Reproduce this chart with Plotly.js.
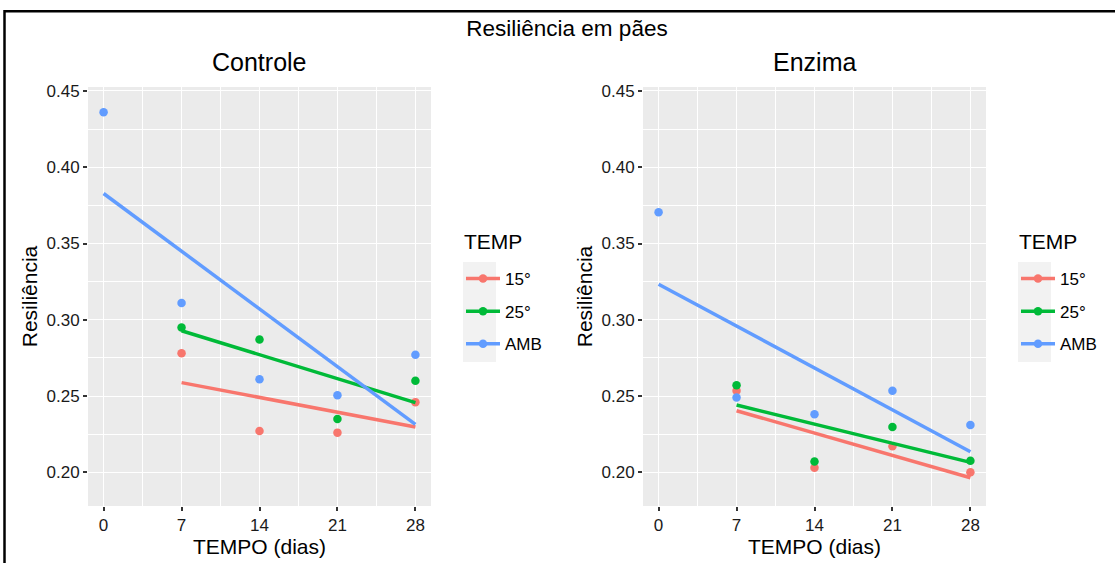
<!DOCTYPE html>
<html>
<head>
<meta charset="utf-8">
<script src="https://cdn.plot.ly/plotly-3.0.1.min.js"></script>
<style>html,body{margin:0;padding:0;background:#fff;}#chart{width:1115px;height:563px;}</style>
</head>
<body>
<div id="chart"></div>
<script>
// ---- data ----
const dayTicks = [0, 7, 14, 21, 28];
const daysAMB = [0, 7, 14, 21, 28];
const daysTemp = [7, 14, 21, 28];
const groups = ["15°", "25°", "AMB"];
const groupColors = ["#F8766D", "#00BA38", "#619CFF"];

const controle15 = [0.278, 0.227, 0.226, 0.246];
const controle25 = [0.295, 0.287, 0.235, 0.260];
const controleAMB = [0.436, 0.311, 0.261, 0.2505, 0.277];

const enzima15 = [0.2535, 0.203, 0.217, 0.200];
const enzima25 = [0.257, 0.207, 0.2297, 0.2076];
const enzimaAMB = [0.3705, 0.249, 0.238, 0.2535, 0.231];

// ---- layout helpers (pixels -> paper) ----
const W = 1115, H = 563;
const px = v => v / W;
const py = v => 1 - v / H;
const FONT = "Liberation Sans, Arial, sans-serif";

function lmLine(xs, ys) {
  const n = xs.length;
  const mx = xs.reduce((a, b) => a + b, 0) / n;
  const my = ys.reduce((a, b) => a + b, 0) / n;
  let sxy = 0, sxx = 0;
  for (let i = 0; i < n; i++) { sxy += (xs[i] - mx) * (ys[i] - my); sxx += (xs[i] - mx) ** 2; }
  const b = sxy / sxx, a = my - b * mx;
  const x0 = Math.min(...xs), x1 = Math.max(...xs);
  return { x: [x0, x1], y: [a + b * x0, a + b * x1] };
}

const panels = [
  { xa: "x", ya: "y", legend: "legend", data: [[daysTemp, controle15], [daysTemp, controle25], [daysAMB, controleAMB]] },
  { xa: "x2", ya: "y2", legend: "legend2", data: [[daysTemp, enzima15], [daysTemp, enzima25], [daysAMB, enzimaAMB]] }
];

const traces = [];
panels.forEach(p => {
  p.data.forEach((d, i) => {
    traces.push({ x: d[0], y: d[1], type: "scatter", mode: "markers", xaxis: p.xa, yaxis: p.ya,
      marker: { color: groupColors[i], size: 8.5 }, showlegend: false, hoverinfo: "x+y" });
  });
  p.data.forEach((d, i) => {
    const f = lmLine(d[0], d[1]);
    traces.push({ x: f.x, y: f.y, type: "scatter", mode: "lines", xaxis: p.xa, yaxis: p.ya,
      line: { color: groupColors[i], width: 3.5 }, showlegend: false, hoverinfo: "skip" });
  });
  groups.forEach((g, i) => {
    traces.push({ x: [null], y: [null], type: "scatter", mode: "lines+markers", xaxis: p.xa, yaxis: p.ya,
      name: g, legend: p.legend, legendgroup: p.legend + g,
      line: { color: groupColors[i], width: 3.5 }, marker: { color: groupColors[i], size: 8.5 } });
  });
});

function xAxis(domain, anchor) {
  return {
    domain: domain, anchor: anchor, range: [-1.4, 29.4], tickmode: "linear", tick0: 0, dtick: 7,
    showgrid: true, gridcolor: "#ffffff", gridwidth: 1.4, zeroline: false, showline: false,
    ticks: "outside", ticklen: 4, tickwidth: 1.6, tickcolor: "#333333",
    tickfont: { family: FONT, size: 17, color: "#1a1a1a" },
    minor: { tick0: 3.5, dtick: 7, showgrid: true, gridcolor: "#ffffff", gridwidth: 0.7, ticks: "" },
    title: { text: "TEMPO (dias)", font: { family: FONT, size: 21, color: "#000000" }, standoff: 2 },
    automargin: false, fixedrange: true
  };
}
function yAxis(domain, anchor) {
  return {
    domain: domain, anchor: anchor, range: [0.1779, 0.4526], tickmode: "linear", tick0: 0.2, dtick: 0.05,
    tickformat: ".2f", showgrid: true, gridcolor: "#ffffff", gridwidth: 1.4, zeroline: false, showline: false,
    ticks: "outside", ticklen: 4, tickwidth: 1.6, tickcolor: "#333333",
    tickfont: { family: FONT, size: 17, color: "#1a1a1a" },
    minor: { tick0: 0.225, dtick: 0.05, showgrid: true, gridcolor: "#ffffff", gridwidth: 0.7, ticks: "" },
    title: { text: "Resiliência", font: { family: FONT, size: 21, color: "#000000" }, standoff: 3 },
    automargin: false, fixedrange: true
  };
}

function legendCfg(xpx) {
  return {
    x: px(xpx), y: py(261), xanchor: "left", yanchor: "top",
    bgcolor: "rgba(0,0,0,0)", borderwidth: 0, traceorder: "grouped", tracegroupgap: 7.5,
    itemwidth: 34,
    font: { family: FONT, size: 17, color: "#000000" }
  };
}

const plotTop = 87, plotBot = 506;
const layout = {
  width: W, height: H,
  margin: { l: 0, r: 0, t: 0, b: 0 },
  paper_bgcolor: "#ffffff", plot_bgcolor: "#EBEBEB",
  font: { family: FONT },
  title: { text: "Resiliência em pães", x: px(567), y: py(28), xanchor: "center", yanchor: "middle",
    xref: "paper", yref: "paper", font: { family: FONT, size: 22.5, color: "#000000" } },
  xaxis: xAxis([px(88), px(431)], "y"),
  yaxis: yAxis([py(plotBot), py(plotTop)], "x"),
  xaxis2: xAxis([px(643), px(986)], "y2"),
  yaxis2: yAxis([py(plotBot), py(plotTop)], "x2"),
  legend: legendCfg(461),
  legend2: legendCfg(1016),
  annotations: [
    { text: "Controle", xref: "paper", yref: "paper", x: px(259.5), y: py(62), xanchor: "center", yanchor: "middle",
      showarrow: false, font: { family: FONT, size: 25, color: "#000000" } },
    { text: "Enzima", xref: "paper", yref: "paper", x: px(814.5), y: py(62), xanchor: "center", yanchor: "middle",
      showarrow: false, font: { family: FONT, size: 25, color: "#000000" } },
    { text: "TEMP", xref: "paper", yref: "paper", x: px(462), y: py(241), xanchor: "left", yanchor: "middle",
      showarrow: false, font: { family: FONT, size: 21, color: "#000000" } },
    { text: "TEMP", xref: "paper", yref: "paper", x: px(1017), y: py(241), xanchor: "left", yanchor: "middle",
      showarrow: false, font: { family: FONT, size: 21, color: "#000000" } }
  ],
  shapes: [
    { type: "rect", xref: "paper", yref: "paper", x0: px(463), x1: px(496), y0: py(362), y1: py(262),
      fillcolor: "#F2F2F2", line: { width: 0 }, layer: "below" },
    { type: "rect", xref: "paper", yref: "paper", x0: px(1018), x1: px(1051), y0: py(362), y1: py(262),
      fillcolor: "#F2F2F2", line: { width: 0 }, layer: "below" },
    { type: "line", xref: "paper", yref: "paper", x0: px(4.5), x1: px(4.5), y0: py(10), y1: py(563),
      line: { color: "#000000", width: 2.5 } },
    { type: "line", xref: "paper", yref: "paper", x0: px(4.5), x1: px(1115), y0: py(11.3), y1: py(11.3),
      line: { color: "#000000", width: 2.5 } }
  ],
  showlegend: true
};

Plotly.newPlot("chart", traces, layout, { displayModeBar: false, staticPlot: false });
</script>
</body>
</html>
